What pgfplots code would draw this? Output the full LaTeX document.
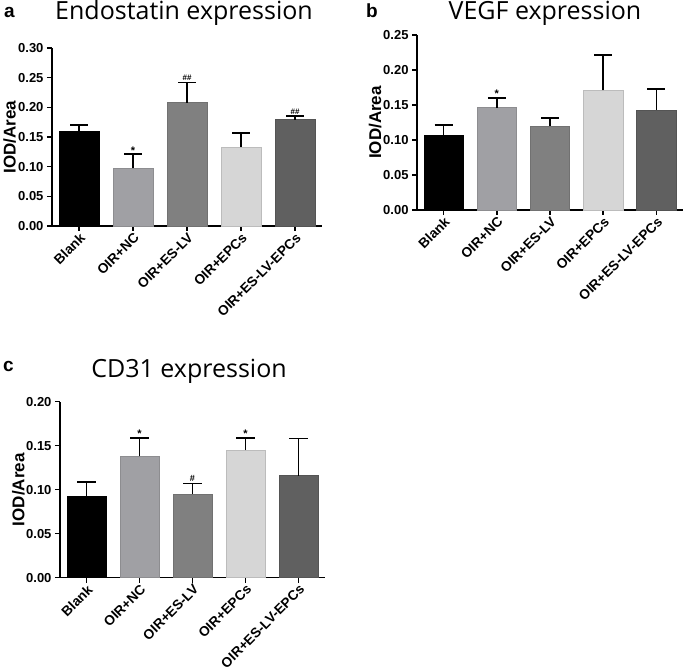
\documentclass[border=0pt]{standalone}
\usepackage{pgfplots}
\pgfplotsset{compat=1.18}
\usepackage{fontspec}
\setmainfont{Liberation Sans}
\newfontfamily\titlefont{Open Sans}
\definecolor{cBL}{HTML}{000000}
\definecolor{cNC}{HTML}{A0A0A4}
\definecolor{cES}{HTML}{808080}
\definecolor{cEP}{HTML}{D6D6D6}
\definecolor{cEE}{HTML}{606060}
\pgfplotsset{
  panel/.style={
    scale only axis,
    axis lines=left,
    axis line style={line width=1.5bp,-},
    xmin=-0.5, xmax=4.5, ymin=0,
    xtick={0,1,2,3,4},
    xticklabels={Blank,OIR+NC,OIR+ES-LV,OIR+EPCs,OIR+ES-LV-EPCs},
    tick align=outside,
    major tick length=5bp,
    tick style={line width=1.5bp,black},
    xticklabel style={rotate=45,anchor=north east,inner sep=0.5bp,font=\bfseries\fontsize{13.7bp}{13.7bp}\selectfont},
    yticklabel style={font=\bfseries\fontsize{13bp}{13bp}\selectfont},
    /pgf/number format/fixed,
    /pgf/number format/fixed zerofill,
    /pgf/number format/precision=2,
    /pgf/number format/assume math mode=true,
    ylabel={IOD/Area},
    ylabel style={font=\bfseries\fontsize{17bp}{17bp}\selectfont,at={(axis description cs:-0.157,0.5)},anchor=center},
    clip=false,
  },
  bb/.style={ybar,bar width=0.74,bar shift=0pt,draw=#1!88!black,line width=0.6bp,fill=#1,
    error bars/.cd,y dir=plus,y explicit,
    error bar style={line width=1.6bp,black},
    error mark options={rotate=90,mark size=9bp,line width=1.6bp,black}},
}
\tikzset{
  star/.style={anchor=base,inner sep=0pt,font=\bfseries\fontsize{11bp}{11bp}\selectfont},
  hash/.style={anchor=base,inner sep=0pt,yshift=2bp,font=\bfseries\fontsize{8bp}{8bp}\selectfont},
}
\begin{document}
\begin{tikzpicture}
\path[use as bounding box] (0bp,0bp) rectangle (685bp,670bp);
% Panel a
\begin{axis}[panel, at={(52bp,444bp)}, anchor=south west, width=270bp, height=178bp,
  ymax=0.30, ytick={0,0.05,0.10,0.15,0.20,0.25,0.30}]
\addplot[bb=cBL] coordinates {(0,0.160) +- (0,0.010)};
\addplot[bb=cNC] coordinates {(1,0.097) +- (0,0.024)};
\addplot[bb=cES] coordinates {(2,0.208) +- (0,0.034)};
\addplot[bb=cEP] coordinates {(3,0.133) +- (0,0.024)};
\addplot[bb=cEE] coordinates {(4,0.179) +- (0,0.006)};
\node[star] at (axis cs:1,0.121) {*};
\node[hash] at (axis cs:2,0.242) {\#\#};
\node[hash] at (axis cs:4,0.185) {\#\#};
\end{axis}
% Panel b
\begin{axis}[panel, at={(417bp,460bp)}, anchor=south west, width=266bp, height=175bp,
  ymax=0.25, ytick={0,0.05,0.10,0.15,0.20,0.25}]
\addplot[bb=cBL] coordinates {(0,0.107) +- (0,0.014)};
\addplot[bb=cNC] coordinates {(1,0.146) +- (0,0.014)};
\addplot[bb=cES] coordinates {(2,0.120) +- (0,0.011)};
\addplot[bb=cEP] coordinates {(3,0.171) +- (0,0.050)};
\addplot[bb=cEE] coordinates {(4,0.143) +- (0,0.030)};
\node[star] at (axis cs:1,0.160) {*};
\end{axis}
% Panel c
\begin{axis}[panel, at={(60bp,92.3bp)}, anchor=south west, width=265bp, height=176bp,
  ymax=0.20, ytick={0,0.05,0.10,0.15,0.20}]
\addplot[bb=cBL] coordinates {(0,0.093) +- (0,0.016)};
\addplot[bb=cNC] coordinates {(1,0.138) +- (0,0.021)};
\addplot[bb=cES] coordinates {(2,0.095) +- (0,0.012)};
\addplot[bb=cEP] coordinates {(3,0.145) +- (0,0.014)};
\addplot[bb=cEE] coordinates {(4,0.116) +- (0,0.042)};
\node[star] at (axis cs:1,0.159) {*};
\node[star] at (axis cs:3,0.159) {*};
\node[hash,font=\bfseries\fontsize{9bp}{9bp}\selectfont] at (axis cs:2,0.107) {\#};
\end{axis}
% Titles and panel letters
\node[anchor=base,inner sep=0pt,font=\titlefont\fontsize{25bp}{25bp}\selectfont] at (184bp,650bp) {Endostatin expression};
\node[anchor=base,inner sep=0pt,font=\titlefont\fontsize{25bp}{25bp}\selectfont] at (545bp,650bp) {VEGF expression};
\node[anchor=base,inner sep=0pt,font=\titlefont\fontsize{25bp}{25bp}\selectfont] at (189bp,292bp) {CD31 expression};
\node[anchor=base west,inner sep=0pt,font=\bfseries\fontsize{19bp}{19bp}\selectfont] at (4bp,652bp) {a};
\node[anchor=base west,inner sep=0pt,font=\bfseries\fontsize{19bp}{19bp}\selectfont] at (366bp,652bp) {b};
\node[anchor=base west,inner sep=0pt,font=\bfseries\fontsize{19bp}{19bp}\selectfont] at (3bp,298bp) {c};
\end{tikzpicture}
\end{document}
